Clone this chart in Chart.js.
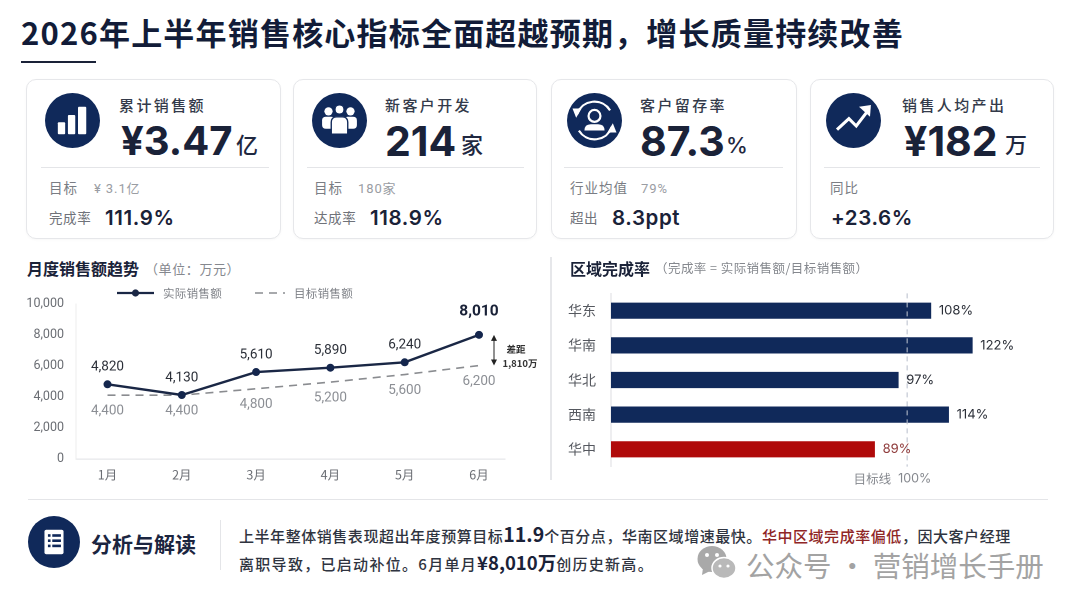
<!DOCTYPE html>
<html lang="zh"><head><meta charset="utf-8">
<script src="https://cdn.jsdelivr.net/npm/chart.js@4"></script>
<style>
html,body{margin:0;padding:0;background:#fff;width:1080px;height:608px;overflow:hidden;font-family:"Noto Sans CJK SC","Noto Sans",sans-serif}
#page{position:relative;width:1080px;height:608px}
.t{position:absolute;white-space:nowrap;line-height:1;transform:translateY(-50%)}
.card{position:absolute;top:79px;height:160px;box-sizing:border-box;border:1.5px solid #e6e7ea;border-radius:10px;background:#fff;box-shadow:0 1px 3px rgba(0,0,0,.03)}
.rule{position:absolute;background:#e4e5e8}
svg{position:absolute}
canvas{position:absolute}
</style></head><body><div id="page">
<canvas id="lineChart" style="left:0;top:280px;width:545px;height:210px"></canvas>
<canvas id="barChart" style="left:551px;top:270px;width:529px;height:220px"></canvas>
</div>
<script>
// ---------- data ----------
const months = ['1月','2月','3月','4月','5月','6月'];
const actualSales = [4820,4130,5610,5890,6240,8010];
const targetLine = [4120,4120,4530,4960,5450,6030];      // where the dashed line is drawn
const targetPrinted = ['4,400','4,400','4,800','5,200','5,600','6,200']; // what its labels say
const yTicks = [0,2000,4000,6000,8000,10000];
const seriesNames = ['实际销售额','目标销售额'];
const regions = ['华东','华南','华北','西南','华中'];
const completion = [108,122,97,114,89];
const targetRate = 100;
const gapLines = ['差距','1,810万'];

const navy='#10295a', ink='#1a2238', red='#b00a0a';
const F='"Noto Sans CJK SC","Noto Sans",sans-serif', N='Inter,"Noto Sans CJK SC",sans-serif', RB='Roboto,"Noto Sans CJK SC",sans-serif';
const page=document.getElementById('page');
function T(x,y,text,size,color,weight,font,spacing){
  const e=document.createElement('div');e.className='t';e.textContent=text;
  e.style.cssText=`left:${x}px;top:${y}px;font-size:${size}px;color:${color};font-weight:${weight||400};font-family:${font||F};letter-spacing:${spacing||0}px`;
  page.appendChild(e);return e;
}
function R(x,y,w,h,c){const e=document.createElement('div');e.className='rule';e.style.cssText=`left:${x}px;top:${y}px;width:${w}px;height:${h}px;`+(c?`background:${c}`:'');page.appendChild(e);}
function Icon(cx,cy,r,inner){
  const s=document.createElementNS('http://www.w3.org/2000/svg','svg');
  s.setAttribute('width',2*r);s.setAttribute('height',2*r);s.setAttribute('viewBox','-30 -30 60 60');
  s.style.left=(cx-r)+'px';s.style.top=(cy-r)+'px';
  s.innerHTML=`<circle r="30" fill="${navy}"/>`+inner;page.appendChild(s);
}

// ---------- header ----------
T(21,31,'2026年上半年销售核心指标全面超越预期\uFF0C增长质量持续改善',31,'#121c38',700,F,1.2);
R(21,61,75,2,'#1a2238');

// ---------- KPI cards ----------
const cards=[
 {x:26,w:255,label:'累计销售额',lx:119,big:[['¥3.47',121,40],['亿',236,22]],rx:41,rw:228,a:'目标',ax:49,av:'¥ 3.1亿',avx:94,b:'完成率',bx:49,bv:'111.9%',bvx:105},
 {x:293,w:244,label:'新客户开发',lx:385,big:[['214',385,41],['家',461,22]],rx:307,rw:217,a:'目标',ax:314,av:'180家',avx:358,b:'达成率',bx:314,bv:'118.9%',bvx:370},
 {x:551,w:246,label:'客户留存率',lx:640,big:[['87.3',640,41],['%',726,22]],rx:564,rw:219,a:'行业均值',ax:570,av:'79%',avx:641,b:'超出',bx:570,bv:'8.3ppt',bvx:612},
 {x:810,w:244,label:'销售人均产出',lx:902,big:[['¥182',904,41],['万',1005,22]],rx:824,rw:216,a:'同比',ax:830,av:'',avx:0,b:'',bx:0,bv:'+23.6%',bvx:831}
];
cards.forEach(c=>{
  const d=document.createElement('div');d.className='card';d.style.left=c.x+'px';d.style.width=c.w+'px';page.appendChild(d);
  T(c.lx,104,c.label,15,'#333a4a',500,F,2.4);
  c.big.forEach((b,i)=>T(b[1],i?145:141,b[0],b[2],i?'#1f2840':ink,i?500:700,N));
  R(c.rx,167,c.rw,1.2);
  T(c.ax,188,c.a,13.5,'#7a7d84',400,F,1);
  if(c.av)T(c.avx,188,c.av,13,'#9a9da3',400,RB,.9);
  if(c.b)T(c.bx,218,c.b,13.5,'#6f7279',400,F,.6);
  T(c.bvx,218,c.bv,20.5,ink,600,N,.6);
});
Icon(72,120,27.5,'<g fill="#fff"><rect x="-16" y="2" width="8" height="13" rx="1"/><rect x="-5" y="-6" width="8" height="21" rx="1"/><rect x="6" y="-15" width="9" height="30" rx="1"/></g>');
Icon(339,120,27.5,'<g fill="#fff"><circle cx="-12" cy="-10" r="4.5"/><circle cx="12" cy="-10" r="4.5"/><rect x="-19" y="-4" width="14" height="13" rx="4"/><rect x="5" y="-4" width="14" height="13" rx="4"/><circle cy="-12" r="5" stroke="'+navy+'" stroke-width="1.5"/><path d="M-9 15V2q0-6 6-6h6q6 0 6 6V15z" stroke="'+navy+'" stroke-width="1.5"/></g>');
Icon(594,120,27.5,'<g fill="none" stroke="#fff" stroke-width="2.4"><path d="M-19 -7A20 20 0 0 1 17 -11"/><path d="M19 7A20 20 0 0 1 -17 11"/></g><g fill="#fff"><path d="M-24 -13L-14 -13L-20 -3z"/><path d="M24 13L14 13L20 3z"/><circle cy="-5" r="6.5" fill="none" stroke="#fff" stroke-width="2.4"/><path d="M-11 11q0-7 7-7h8q7 0 7 7z"/></g>');
Icon(853,120,27.5,'<g fill="none" stroke="#fff" stroke-width="3.4"><path d="M-18 10L-5 -2L3 6L16 -11"/></g><path d="M6 -15L19 -17L18 -4z" fill="#fff"/>');

// ---------- section titles ----------
T(27,268,'月度销售额趋势',16,ink,700,F);
T(145,268,'\uFF08单位\uFF1A万元\uFF09',13,'#85888e',400,F,.6);
T(570,268,'区域完成率',16,ink,700,F);
T(655,268,'\uFF08完成率 = 实际销售额/目标销售额\uFF09',12.5,'#85888e',400,F,.45);
R(550,257,1.5,223,'#e6e7ea');

// ---------- analysis band ----------
R(28,499,1020,1.2);
Icon(54,542,26,'<rect x="-11" y="-14" width="22" height="28" rx="2" fill="#fff"/><g fill="'+navy+'"><rect x="-7" y="-9" width="3" height="3"/><rect x="-2" y="-9" width="10" height="3"/><rect x="-7" y="-3" width="3" height="3"/><rect x="-2" y="-3" width="10" height="3"/><rect x="-7" y="3" width="3" height="3"/><rect x="-2" y="3" width="10" height="3"/></g>');
T(91,543,'分析与解读',21,'#1b2540',700,F);
R(220,520,1,50);
const bodyStyle=';letter-spacing:0;color:#1a2238';
const line1=T(239,533,'',15,'#2f3440',500,F,.55);
line1.innerHTML='上半年整体销售表现超出年度预算目标<b style="font:700 19.5px '+"'Noto Sans CJK SC'"+bodyStyle+'">11.9</b>个百分点\uFF0C华南区域增速最快。<span style="color:#8f2626">华中区域完成率偏低</span>\uFF0C因大客户经理';
const line2=T(239,562,'',15,'#2f3440',500,F,1.3);
line2.innerHTML='离职导致\uFF0C已启动补位。6月单月<b style="font:700 18.5px '+"'Noto Sans CJK SC'"+bodyStyle+'">¥8,010万</b>创历史新高。';

// watermark
const wm=document.createElementNS('http://www.w3.org/2000/svg','svg');
wm.setAttribute('width',40);wm.setAttribute('height',38);wm.style.left='697px';wm.style.top='544px';
wm.innerHTML='<ellipse cx="15" cy="15" rx="14.5" ry="13" fill="#a9a9a9"/><path d="M6 24l-1 7 8-4z" fill="#a9a9a9"/><ellipse cx="27" cy="24" rx="12" ry="10.5" fill="#b9b9b9" stroke="#fff" stroke-width="1.5"/><circle cx="10" cy="11" r="2" fill="#fff"/><circle cx="20" cy="11" r="2" fill="#fff"/><circle cx="23" cy="22" r="1.6" fill="#fff"/><circle cx="31" cy="22" r="1.6" fill="#fff"/>';
page.appendChild(wm);
T(746,565,'公众号 · 营销增长手册',28.5,'#a3a3a3',400,F);

// ---------- line chart ----------
const lineMarks={id:'lineMarks',afterDatasetsDraw(chart){
  const {ctx,scales:{x,y}}=chart; ctx.save(); ctx.textAlign='center';ctx.textBaseline='middle';
  actualSales.forEach((v,i)=>{
    const last=i===actualSales.length-1;
    ctx.font=(last?'700 15.5px ':'400 13.5px ')+RB; ctx.fillStyle=last?'#1a2238':'#2b2f38';
    ctx.fillText(v.toLocaleString('en-US'),x.getPixelForValue(i),y.getPixelForValue(v)-(last?23:17));
  });
  targetPrinted.forEach((s,i)=>{
    ctx.font='400 13.5px '+RB; ctx.fillStyle='#8b8e94';
    ctx.fillText(s,x.getPixelForValue(i),y.getPixelForValue(targetLine[i])+16);
  });
  // gap arrow between the last two points
  const li=actualSales.length-1, ax=x.getPixelForValue(li)+15, y1=y.getPixelForValue(actualSales[li]), y2=y.getPixelForValue(targetLine[li]);
  ctx.strokeStyle='#222';ctx.fillStyle='#222';ctx.lineWidth=1;
  ctx.beginPath();ctx.moveTo(ax,y1+3);ctx.lineTo(ax,y2-3);ctx.stroke();
  [[y1,1],[y2,-1]].forEach(([py,d])=>{ctx.beginPath();ctx.moveTo(ax,py);ctx.lineTo(ax-3,py+d*6);ctx.lineTo(ax+3,py+d*6);ctx.closePath();ctx.fill();});
  ctx.font='600 9.5px '+F;ctx.fillStyle='#333';
  ctx.fillText(gapLines[0],ax+22,(y1+y2)/2-1);
  ctx.fillText(gapLines[1],ax+26,(y1+y2)/2+13);
  // legend
  const ly=13;
  ctx.lineCap='butt';
  ctx.strokeStyle=chart.data.datasets[0].borderColor;ctx.lineWidth=2.2;
  ctx.beginPath();ctx.moveTo(117,ly);ctx.lineTo(154,ly);ctx.stroke();
  ctx.fillStyle=chart.data.datasets[0].borderColor;ctx.beginPath();ctx.arc(135.5,ly,3.6,0,7);ctx.fill();
  ctx.strokeStyle=chart.data.datasets[1].borderColor;ctx.lineWidth=1.6;ctx.setLineDash(chart.data.datasets[1].borderDash);
  ctx.beginPath();ctx.moveTo(255,ly);ctx.lineTo(285,ly);ctx.stroke();ctx.setLineDash([]);
  ctx.textAlign='left';ctx.font='400 11.5px '+F;ctx.fillStyle='#7e8187';
  ctx.letterSpacing='0.3px';
  ctx.fillText(chart.data.datasets[0].label,163,ly);ctx.fillText(chart.data.datasets[1].label,294,ly);
  ctx.restore();
}};
new Chart(document.getElementById('lineChart'),{
  type:'line',
  data:{datasets:[
    {label:seriesNames[0],data:actualSales.map((v,i)=>({x:i,y:v})),borderColor:'#1a2745',backgroundColor:'#14264d',borderWidth:2.4,pointRadius:4,pointBackgroundColor:'#14264d',pointBorderWidth:0,tension:0,order:1},
    {label:seriesNames[1],data:targetLine.map((v,i)=>({x:i,y:v})),borderColor:'#8a8c90',borderWidth:1.6,borderDash:[8,6],pointRadius:0,tension:0,order:2}
  ]},
  options:{responsive:false,animation:false,devicePixelRatio:2,
    layout:{autoPadding:false,padding:{top:24,right:40,left:0,bottom:0}},
    plugins:{legend:{display:false},tooltip:{enabled:false}},
    scales:{
      x:{type:'linear',min:-0.424,max:5.35,
        afterBuildTicks(a){a.ticks=months.map((_,i)=>({value:i}));},
        afterFit(a){a.height=31;},
        grid:{display:false,drawTicks:false},border:{color:'#e6e7ea',width:1.2},
        ticks:{autoSkip:false,maxRotation:0,padding:8,font:{size:12.5,family:F},color:'#6a6d73',callback:(v)=>months[v]}},
      y:{min:0,max:10000,
        afterBuildTicks(a){a.ticks=yTicks.map(v=>({value:v}));},
        afterFit(a){a.width=76;},
        grid:{display:false,drawTicks:false},border:{color:'#eceded',width:1},
        ticks:{padding:12,font:{size:12.5,family:RB},color:'#6a6d73',callback:(v)=>v.toLocaleString('en-US')}}
    }},
  plugins:[lineMarks]
});

// ---------- bar chart ----------
const barMarks={id:'barMarks',afterDatasetsDraw(chart){
  const {ctx,scales:{x,y},chartArea:a}=chart; ctx.save();
  const tx=x.getPixelForValue(targetRate);
  ctx.strokeStyle='rgba(185,192,205,.95)';ctx.lineWidth=1.1;ctx.setLineDash([5,4]);
  ctx.beginPath();ctx.moveTo(tx,a.top);ctx.lineTo(tx,a.bottom);ctx.stroke();ctx.setLineDash([]);
  ctx.textBaseline='middle';ctx.textAlign='left';
  completion.forEach((v,i)=>{
    ctx.font='400 13px '+N;ctx.fillStyle=v<90?'#8e3a3a':'#2b2f38';
    ctx.fillText(v+'%',x.getPixelForValue(v)+8,y.getPixelForValue(i));
  });
  ctx.fillStyle='#85888e';ctx.font='400 12.5px '+F;
  ctx.textAlign='right';ctx.fillText('目标线',tx-16,a.bottom+12);
  ctx.textAlign='left';ctx.font='400 12.5px '+N;ctx.fillText(targetRate+'%',tx-9,a.bottom+12);
  ctx.restore();
}};
new Chart(document.getElementById('barChart'),{
  type:'bar',
  data:{labels:regions,datasets:[{data:completion,backgroundColor:completion.map(v=>v<90?red:navy),barThickness:15.5,borderWidth:0}]},
  options:{responsive:false,animation:false,devicePixelRatio:2,indexAxis:'y',
    layout:{autoPadding:false,padding:{top:22,bottom:23,right:84,left:0}},
    plugins:{legend:{display:false},tooltip:{enabled:false}},
    scales:{
      x:{display:true,min:0,max:130,afterFit(a){a.height=0;},ticks:{display:false},grid:{display:false,drawTicks:false},border:{display:false}},
      y:{afterFit(a){a.width=60;},grid:{display:false,drawTicks:false},border:{color:'#dcdde0',width:1},
        ticks:{padding:15,font:{size:14,family:F},color:'#55585f'}}
    }},
  plugins:[barMarks]
});
</script></body></html>
